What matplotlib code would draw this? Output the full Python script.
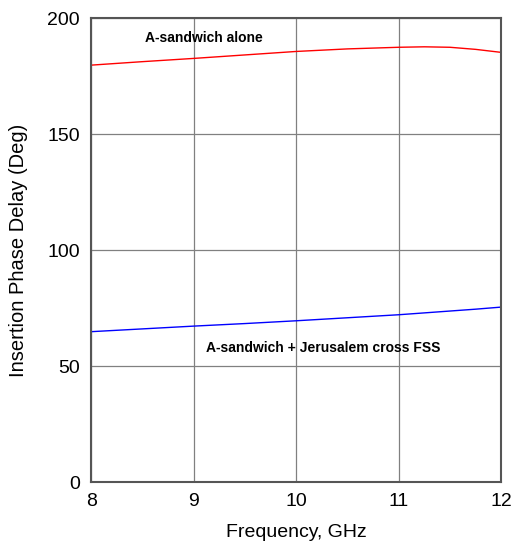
import numpy as np
import matplotlib.pyplot as plt

plt.rcParams['font.family'] = ['Liberation Sans', 'DejaVu Sans']

freq = [8.0, 8.5, 9.0, 9.5, 10.0, 10.5, 11.0, 11.25, 11.5, 11.75, 12.0]
alone = [179.7, 181.2, 182.6, 184.1, 185.6, 186.7, 187.4, 187.6, 187.4, 186.5, 185.2]
fss = [64.8, 66.0, 67.2, 68.3, 69.5, 70.8, 72.1, 72.9, 73.7, 74.5, 75.4]

fig = plt.figure(figsize=(5.12, 5.42), dpi=100)
ax = fig.add_axes([0.178, 0.1107, 0.801, 0.856])

ax.plot(freq, alone, color='red', lw=1)
ax.plot(freq, fss, color='blue', lw=1)

ax.text(9.1, 191.5, "A-sandwich alone", fontsize=10, fontweight='bold',
        ha='center', va='center')
ax.text(10.26, 57.8, "A-sandwich + Jerusalem cross FSS", fontsize=10,
        fontweight='bold', ha='center', va='center')

ax.set_xlim(8, 12)
ax.set_ylim(0, 200)
ax.set_xticks([8, 9, 10, 11, 12])
ax.set_yticks([0, 50, 100, 150, 200])
ax.grid(True, color='#808080', lw=0.9)
ax.tick_params(length=0, labelsize=14)
ax.tick_params(axis='x', pad=8)
ax.tick_params(axis='y', pad=8)
for s in ax.spines.values():
    s.set_color('#555555')
    s.set_linewidth(1.5)

ax.set_xlabel("Frequency, GHz", fontsize=14, labelpad=10)
ax.set_ylabel("Insertion Phase Delay (Deg)", fontsize=14.5, labelpad=14)

plt.savefig("out.png", dpi=100)
